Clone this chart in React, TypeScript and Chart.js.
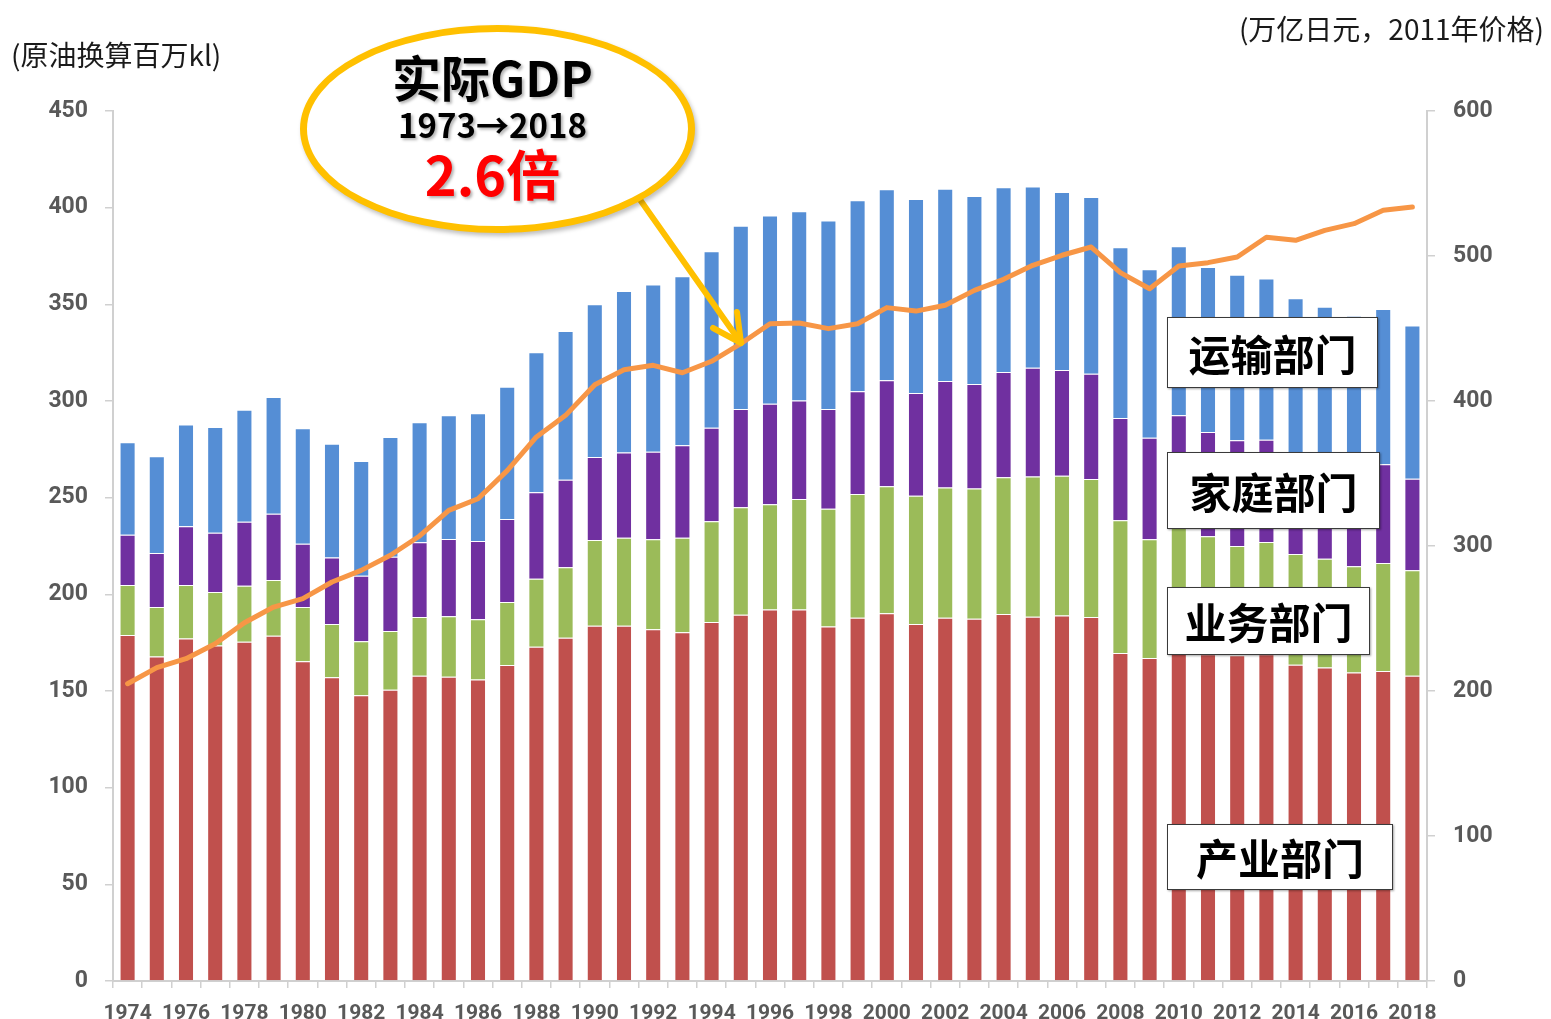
import React, { useEffect, useRef } from "react";
import { Chart, registerables } from "chart.js";

Chart.register(...registerables);

const years: string[] = [
  "1974", "1975", "1976", "1977", "1978", "1979", "1980", "1981", "1982", "1983",
  "1984", "1985", "1986", "1987", "1988", "1989", "1990", "1991", "1992", "1993",
  "1994", "1995", "1996", "1997", "1998", "1999", "2000", "2001", "2002", "2003",
  "2004", "2005", "2006", "2007", "2008", "2009", "2010", "2011", "2012", "2013",
  "2014", "2015", "2016", "2017", "2018",
];

// 产业部门 (原油换算百万kl)
const industry: number[] = [
  179.0, 167.8, 177.1, 173.5, 175.5, 178.6, 165.4, 157.1, 147.8, 150.7,
  157.9, 157.4, 155.9, 163.4, 172.9, 177.6, 183.8, 183.8, 181.9, 180.4,
  185.7, 189.5, 192.1, 192.1, 183.3, 187.9, 190.2, 184.7, 187.9, 187.4,
  189.8, 188.4, 189.0, 188.3, 169.7, 167.1, 172.0, 169.0, 168.5, 169.0,
  163.6, 162.1, 159.6, 160.3, 157.9,
];

// 业务部门
const business: number[] = [
  25.8, 25.6, 27.7, 27.7, 29.0, 28.8, 28.0, 27.6, 27.9, 30.3,
  30.4, 31.2, 31.2, 32.6, 35.2, 36.4, 44.3, 45.5, 46.6, 48.9,
  52.1, 55.5, 54.5, 57.2, 61.0, 64.0, 65.7, 66.3, 67.3, 67.4,
  70.7, 72.5, 72.4, 71.4, 68.6, 61.4, 63.0, 61.0, 56.5, 58.1,
  57.3, 56.3, 54.9, 55.9, 54.5,
];

// 家庭部门
const household: number[] = [
  26.0, 28.0, 30.4, 30.7, 33.1, 34.3, 32.8, 34.3, 33.9, 38.5,
  38.6, 40.0, 40.5, 43.0, 44.7, 45.3, 42.9, 44.0, 45.3, 47.8,
  48.4, 50.9, 52.0, 50.9, 51.6, 53.1, 54.8, 53.1, 55.1, 54.0,
  54.5, 56.3, 54.6, 54.4, 52.9, 52.5, 57.6, 54.0, 54.7, 52.9,
  48.1, 48.6, 48.5, 51.1, 47.4,
];

// 运输部门
const transport: number[] = [
  47.8, 50.0, 52.7, 54.7, 57.9, 60.4, 59.7, 58.9, 59.4, 61.9,
  62.1, 64.0, 66.0, 68.4, 72.4, 76.9, 79.0, 83.6, 86.4, 87.4,
  91.2, 94.8, 97.4, 97.9, 97.4, 98.8, 98.8, 100.4, 99.5, 97.2,
  95.5, 93.7, 92.1, 91.4, 88.3, 87.1, 87.4, 85.3, 85.6, 83.4,
  84.1, 81.8, 81.1, 80.3, 79.2,
];

// 实际GDP (万亿日元, 2011年价格)
const gdp: number[] = [
  205.0, 216.1, 222.3, 232.6, 247.1, 257.9, 263.7, 275.2, 283.2, 293.6,
  306.9, 324.6, 332.6, 352.0, 375.2, 390.1, 411.2, 421.6, 424.6, 419.5,
  427.4, 439.5, 453.3, 453.8, 449.9, 453.3, 464.4, 462.0, 466.0, 476.3,
  483.9, 493.6, 500.5, 506.2, 488.5, 477.4, 493.1, 495.4, 499.3, 512.9,
  510.8, 517.7, 522.3, 531.5, 533.8,
];

const leftTicks: number[] = [0, 50, 100, 150, 200, 250, 300, 350, 400, 450];
const rightTicks: number[] = [0, 100, 200, 300, 400, 500, 600];

const tickFont = { family: "Roboto, 'DejaVu Sans', sans-serif", weight: "bold" as const, size: 23 };
const axisGray = "#D0D0D0";
const labelGray = "#595959";

const cjk = "'Noto Sans CJK SC', 'Noto Sans', sans-serif";

export default function App() {
  const canvasRef = useRef<HTMLCanvasElement | null>(null);

  useEffect(() => {
    document.body.style.margin = "0";
    const canvas = canvasRef.current;
    if (!canvas) return;
    const barCommon = {
      barPercentage: 0.55,
      categoryPercentage: 1.0,
      borderWidth: 1,
      borderColor: "rgba(255,255,255,0.35)",
      order: 1,
      stack: "energy",
      yAxisID: "y",
    };
    const chart = new Chart(canvas, {
      type: "bar",
      data: {
        labels: years,
        datasets: [
          { ...barCommon, label: "产业部门", data: industry, backgroundColor: "#C0504D" },
          { ...barCommon, label: "业务部门", data: business, backgroundColor: "#9BBB59" },
          { ...barCommon, label: "家庭部门", data: household, backgroundColor: "#7030A0" },
          { ...barCommon, label: "运输部门", data: transport, backgroundColor: "#558ED5" },
          {
            type: "line",
            label: "实际GDP",
            data: gdp,
            yAxisID: "y1",
            stack: "gdp",
            borderColor: "#F79646",
            borderWidth: 5,
            pointRadius: 0,
            tension: 0,
            order: 0,
            borderCapStyle: "round",
            borderJoinStyle: "round",
          } as any,
        ],
      },
      options: {
        responsive: false,
        animation: false,
        layout: { padding: { top: 111, left: 0, right: 0, bottom: 0 } },
        plugins: {
          legend: { display: false },
          tooltip: { enabled: false },
          title: { display: false },
        },
        scales: {
          x: {
            stacked: true,
            offset: true,
            grid: {
              display: true,
              drawOnChartArea: false,
              drawTicks: true,
              tickLength: 7,
              offset: true,
              color: axisGray,
              lineWidth: 1.5,
            },
            border: { display: true, color: axisGray, width: 2 },
            ticks: {
              autoSkip: false,
              maxRotation: 0,
              minRotation: 0,
              padding: 13,
              color: labelGray,
              font: { ...tickFont, size: 21 },
              callback: (_v: any, i: number) => (i % 2 === 0 ? years[i] : ""),
            },
            afterFit: (s: any) => {
              s.height = 38;
            },
          },
          y: {
            stacked: true,
            position: "left",
            min: 0,
            max: 450,
            afterBuildTicks: (s: any) => {
              s.ticks = leftTicks.map((v) => ({ value: v }));
            },
            grid: {
              drawOnChartArea: false,
              drawTicks: true,
              tickLength: 8,
              color: axisGray,
              lineWidth: 1.5,
            },
            border: { display: true, color: axisGray, width: 2 },
            ticks: { padding: 17, color: labelGray, font: tickFont },
            afterFit: (s: any) => {
              s.width = 113;
            },
          },
          y1: {
            position: "right",
            min: 0,
            max: 600,
            afterBuildTicks: (s: any) => {
              s.ticks = rightTicks.map((v) => ({ value: v }));
            },
            grid: {
              drawOnChartArea: false,
              drawTicks: true,
              tickLength: 8,
              color: axisGray,
              lineWidth: 1.5,
            },
            border: { display: true, color: axisGray, width: 2 },
            ticks: { padding: 18, color: labelGray, font: tickFont },
            afterFit: (s: any) => {
              s.width = 124;
            },
          },
        },
      },
    });
    return () => chart.destroy();
  }, []);

  const boxStyle = (left: number, top: number, width: number, height: number): React.CSSProperties => ({
    position: "absolute",
    left,
    top,
    width,
    height,
    boxSizing: "border-box",
    background: "#FFFFFF",
    border: "1.5px solid #3A3A3A",
    boxShadow: "1px 1px 2px rgba(0,0,0,0.35)",
    display: "flex",
    alignItems: "center",
    justifyContent: "center",
    fontFamily: cjk,
    fontWeight: 700,
    fontSize: 42,
    color: "#000",
    lineHeight: 1,
  });

  const shadow = "2px 2px 3px rgba(0,0,0,0.3)";

  return (
    <div style={{ position: "absolute", left: 0, top: 0, width: 1551, height: 1019, background: "#fff", overflow: "hidden" }}>
      <canvas ref={canvasRef} width={1551} height={1019} style={{ position: "absolute", left: 0, top: 0, width: 1551, height: 1019 }} />

      <div style={{ position: "absolute", left: 11, top: 40, fontFamily: cjk, fontSize: 28, color: "#1A1A1A", whiteSpace: "nowrap", lineHeight: 1 }}>
        (原油换算百万kl)
      </div>
      <div style={{ position: "absolute", right: 7, top: 14, fontFamily: cjk, fontSize: 28, color: "#1A1A1A", whiteSpace: "nowrap", lineHeight: 1 }}>
        (万亿日元，2011年价格)
      </div>

      <svg width={1551} height={1019} style={{ position: "absolute", left: 0, top: 0, pointerEvents: "none" }}>
        <g stroke="#FFC000" strokeWidth={6} strokeLinecap="round" strokeLinejoin="round" fill="none">
          <line x1={636} y1={194} x2={741} y2={343} />
          <polyline points="713,328 741,343 737,312" />
        </g>
      </svg>

      <div
        style={{
          position: "absolute",
          left: 300,
          top: 25,
          width: 395,
          height: 208,
          boxSizing: "border-box",
          borderRadius: "50%",
          border: "7px solid #FFC000",
          background: "#FFFFFF",
          boxShadow: "2px 3px 4px rgba(0,0,0,0.25)",
        }}
      />
      <div style={{ position: "absolute", left: 295, width: 395, top: 51, textAlign: "center", fontFamily: cjk, fontWeight: 700, fontSize: 49, lineHeight: 1, color: "#000", textShadow: shadow }}>
        实际GDP
      </div>
      <div style={{ position: "absolute", left: 295, width: 395, top: 108, textAlign: "center", fontFamily: cjk, fontWeight: 700, fontSize: 33, lineHeight: 1, color: "#000", textShadow: shadow }}>
        1973→2018
      </div>
      <div style={{ position: "absolute", left: 295, width: 395, top: 146, textAlign: "center", fontFamily: cjk, fontWeight: 700, fontSize: 54, lineHeight: 1, color: "#FF0000", textShadow: shadow }}>
        2.6倍
      </div>

      <div style={boxStyle(1167, 317, 211, 71)}>运输部门</div>
      <div style={boxStyle(1167, 452, 213, 77)}>家庭部门</div>
      <div style={boxStyle(1167, 587, 203, 68)}>业务部门</div>
      <div style={boxStyle(1167, 824, 226, 66)}>产业部门</div>
    </div>
  );
}
